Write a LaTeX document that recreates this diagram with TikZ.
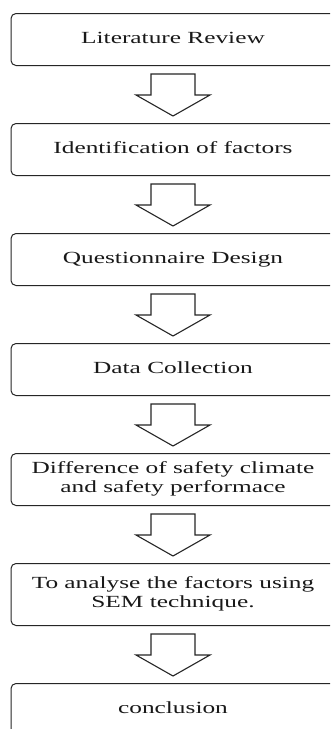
\documentclass[tikz,border=0pt]{standalone}
\usepackage{fontspec}
\usepackage{graphicx}
\setmainfont{Liberation Serif}
\usetikzlibrary{calc}

% wide, horizontally stretched label text (one or more lines)
\newcommand{\widelabel}[1]{\raisebox{-2pt}{\scalebox{1.49}[1]{\begin{tabular}{@{}c@{}}#1\end{tabular}}}}

\tikzset{
  stagebox/.style={draw=black!85, line width=1pt, rounded corners=5pt,
    fill=white, minimum width=324pt, minimum height=52pt, inner sep=0pt,
    anchor=north, font=\fontsize{17}{18.5}\selectfont, text=black!90},
  blockarrow/.style={draw=black!85, line width=1.1pt, fill=white, line join=miter},
}

\begin{document}
\begin{tikzpicture}[x=1pt, y=-1pt]
  \useasboundingbox (0,0) rectangle (330,729);
  \clip (0,0) rectangle (330,729);
  \fill[white] (0,0) rectangle (330,729);

  % process stages
  \node[stagebox] (n1) at (173,13)  {\widelabel{Literature Review}};
  \node[stagebox] (n2) at (173,123) {\widelabel{Identification of factors}};
  \node[stagebox] (n3) at (173,233) {\widelabel{Questionnaire Design}};
  \node[stagebox] (n4) at (173,343) {\widelabel{Data Collection}};
  \node[stagebox] (n5) at (173,453) {\widelabel{Difference of safety climate\\and safety performace}};
  \node[stagebox, minimum height=62pt] (n6) at (173,563) {\widelabel{To analyse the factors using\\SEM technique.}};
  \node[stagebox] (n7) at (173,683) {\widelabel{conclusion}};

  % hollow block arrows between consecutive stages
  \foreach \a/\b in {n1/n2, n2/n3, n3/n4, n4/n5, n5/n6, n6/n7} {
    \draw[blockarrow]
      ($(\a.south)+(-22,8)$) -- ($(\a.south)+(-22,29)$) -- ($(\a.south)+(-37,29)$)
      -- ($(\b.north)+(0,-7)$)
      -- ($(\a.south)+(37,29)$) -- ($(\a.south)+(22,29)$) -- ($(\a.south)+(22,8)$) -- cycle;
  }
\end{tikzpicture}
\end{document}
